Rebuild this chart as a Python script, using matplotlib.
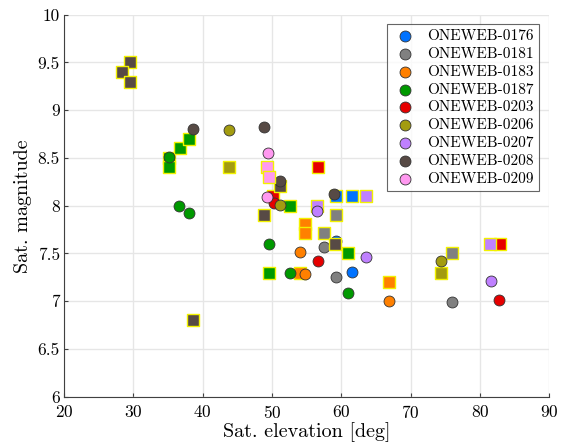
import matplotlib
matplotlib.use("Agg")
import matplotlib.pyplot as plt

plt.rcParams['font.family'] = ['cmr10', 'DejaVu Serif']
plt.rcParams['axes.formatter.use_mathtext'] = True

# satellite names and colours
sats = ['ONEWEB-0176', 'ONEWEB-0181', 'ONEWEB-0183', 'ONEWEB-0187', 'ONEWEB-0203',
        'ONEWEB-0206', 'ONEWEB-0207', 'ONEWEB-0208', 'ONEWEB-0209']
colors = ['#0072ff', '#808080', '#ff8000', '#009900', '#e60000',
          '#a39c10', '#bf80ff', '#574a45', '#ff99f0']

# circles: (elevation, magnitude) per satellite
circ_elev = [
    [59.3, 61.6],
    [57.5, 59.2, 76.0],
    [54.1, 54.8, 66.9],
    [35.2, 36.6, 38.0, 49.6, 52.6, 60.9],
    [50.3, 56.7, 82.8],
    [43.8, 51.1, 74.4],
    [56.5, 63.6, 81.6],
    [38.6, 48.9, 51.1, 59.0],
    [49.4, 49.3],
]
circ_mag = [
    [7.63, 7.31],
    [7.57, 7.25, 6.99],
    [7.51, 7.29, 7.00],
    [8.51, 8.00, 7.92, 7.60, 7.30, 7.09],
    [8.03, 7.42, 7.01],
    [8.79, 8.01, 7.42],
    [7.94, 7.46, 7.21],
    [8.80, 8.82, 8.26, 8.12],
    [8.55, 8.09],
]

# squares: (elevation, magnitude) per satellite
sq_elev = [
    [59.3, 61.6],
    [57.5, 59.2, 76.0],
    [54.8, 54.8, 54.0, 66.9],
    [35.2, 35.2, 36.7, 38.0, 49.6, 52.6, 60.9],
    [50.2, 56.7, 82.9],
    [43.8, 74.4],
    [56.5, 63.6, 81.5],
    [29.5, 28.4, 29.5, 38.6, 51.1, 48.9, 59.1],
    [49.3, 49.5],
]
sq_mag = [
    [8.10, 8.10],
    [7.71, 7.90, 7.50],
    [7.81, 7.71, 7.30, 7.20],
    [8.50, 8.40, 8.60, 8.70, 7.30, 8.00, 7.50],
    [8.10, 8.40, 7.60],
    [8.40, 7.30],
    [8.00, 8.10, 7.60],
    [9.50, 9.40, 9.30, 6.80, 8.21, 7.90, 7.60],
    [8.40, 8.30],
]

fig = plt.figure(figsize=(5.65, 4.48), dpi=100)
ax = fig.add_axes([0.1133, 0.1145, 0.8589, 0.8527])

for i, name in enumerate(sats):
    ax.scatter(sq_elev[i], sq_mag[i], s=78, marker='s', c=colors[i],
               edgecolors='#f2f200', linewidths=1.0, zorder=3)
    ax.scatter(circ_elev[i], circ_mag[i], s=62, marker='o', c=colors[i],
               edgecolors='#333333', linewidths=0.6, zorder=3, label=name)

ax.set_xlim(20, 90)
ax.set_ylim(6, 10)
ax.set_xticks(range(20, 91, 10))
ax.set_yticks([6, 6.5, 7, 7.5, 8, 8.5, 9, 9.5, 10])
ax.set_yticklabels(['6', '6.5', '7', '7.5', '8', '8.5', '9', '9.5', '10'])
ax.grid(True, color='#e6e6e6', linewidth=1.0, zorder=0)
ax.set_axisbelow(True)
for side in ['top', 'right']:
    ax.spines[side].set_visible(False)
for side in ['left', 'bottom']:
    ax.spines[side].set_color('#404040')
    ax.spines[side].set_linewidth(0.8)
ax.tick_params(direction='in', length=3, color='#404040', labelsize=12.5)
ax.tick_params(axis='y', pad=3)
ax.tick_params(axis='x', pad=5)

ax.set_xlabel('Sat. elevation [deg]', fontsize=14.5, labelpad=1)
ax.set_ylabel('Sat. magnitude', fontsize=14.5, labelpad=4)

leg = ax.legend(loc='upper right', bbox_to_anchor=(0.9955, 0.9955), fontsize=11,
                frameon=True, fancybox=False, edgecolor='#404040',
                labelspacing=0.27, handletextpad=0.7, borderpad=0.35,
                handlelength=1.6, markerscale=1.0)
leg.get_frame().set_linewidth(0.8)

fig.savefig('out.png', dpi=100)
